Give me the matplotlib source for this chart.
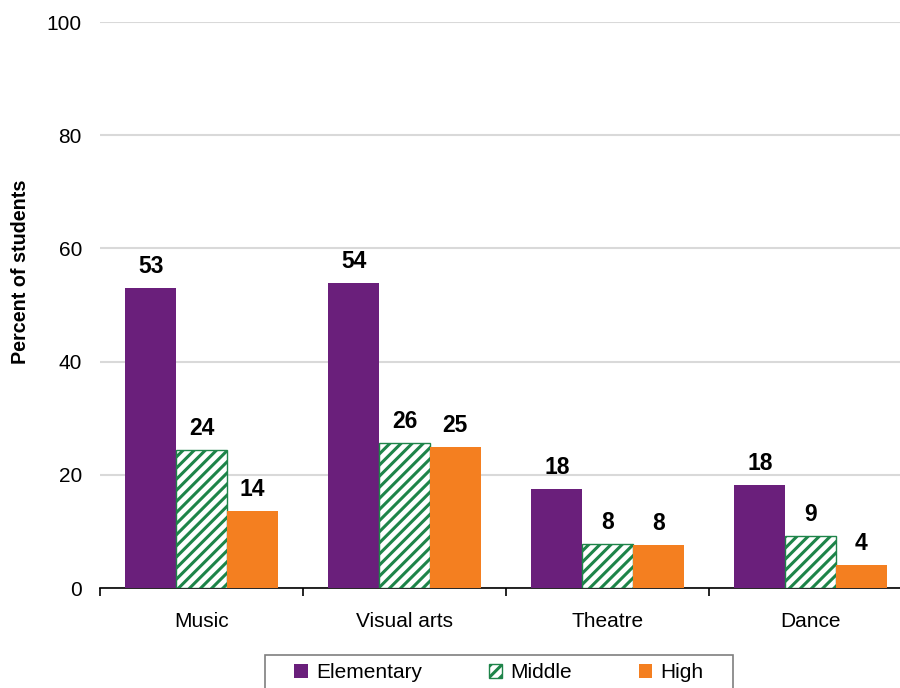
import numpy as np
import matplotlib
import matplotlib.pyplot as plt
from matplotlib.patches import Rectangle

matplotlib.use("Agg")

categories = ["Music", "Visual arts", "Theatre", "Dance"]
levels = ["Elementary", "Middle", "High"]
elementary = [53.0, 53.9, 17.5, 18.2]
middle = [24.4, 25.6, 7.8, 9.2]
high = [13.6, 24.9, 7.6, 4.1]

purple = "#6a1f7b"
green = "#1e8449"
orange = "#f47f20"
fs = 15

plt.rcParams["font.family"] = ["Liberation Sans", "DejaVu Sans"]
plt.rcParams["hatch.linewidth"] = 2.2

fig = plt.figure(figsize=(9, 6.88), dpi=100)
ax = fig.add_axes([100 / 900, 1 - 588 / 688, 812 / 900, (588 - 22) / 688])

x = np.arange(len(categories)) + 0.5
w = 0.25
b1 = ax.bar(x - w, elementary, w, color=purple, label="Elementary", zorder=3)
b2 = ax.bar(x, middle, w, facecolor="white", edgecolor=green, hatch="///",
            linewidth=1, label="Middle", zorder=3)
b3 = ax.bar(x + w, high, w, color=orange, label="High", zorder=3)

for bars, vals in [(b1, elementary), (b2, middle), (b3, high)]:
    for rect, v in zip(bars, vals):
        ax.annotate(f"{round(v)}", (rect.get_x() + rect.get_width() / 2, v),
                    xytext=(0, 7), textcoords="offset points",
                    ha="center", va="bottom", fontsize=16.5, fontweight="bold")

ax.set_xlim(0, len(categories))
ax.set_ylim(0, 100)
ax.set_yticks(np.arange(0, 101, 20))
ax.yaxis.grid(True, color="#d9d9d9", linewidth=1.5, zorder=0)
ax.tick_params(axis="y", length=0, labelsize=fs, pad=13)

# category names sit between boundary ticks
ax.set_xticks(np.arange(len(categories) + 1))
ax.set_xticklabels([])
ax.set_xticks(x, minor=True)
ax.set_xticklabels(categories, minor=True)
ax.tick_params(axis="x", which="major", length=6, width=1.2, direction="out")
ax.tick_params(axis="x", which="minor", length=0, labelsize=fs, pad=17)

for s in ["top", "right", "left"]:
    ax.spines[s].set_visible(False)
ax.spines["bottom"].set_linewidth(1.2)

ax.set_ylabel("Percent of students", fontsize=14.2, fontweight="bold")
ax.yaxis.set_label_coords(-0.086, 0.558)

leg = fig.legend(handles=[b1, b2, b3], labels=levels, loc="upper center",
                 bbox_to_anchor=(499 / 900, 1 - 663 / 688), ncol=3, frameon=False,
                 fontsize=fs, borderaxespad=0, borderpad=0,
                 handlelength=0.65, handleheight=0.65, handletextpad=0.4,
                 columnspacing=3.2)

# square grey frame around the legend, running off the bottom edge
fig.canvas.draw()
bb = leg.get_window_extent().transformed(fig.transFigure.inverted())
padx, ptop, pbot = 29 / 900, 8 / 688, 30 / 688
fig.patches.append(Rectangle((bb.x0 - padx, bb.y0 - pbot), bb.width + 2 * padx,
                             bb.height + ptop + pbot, transform=fig.transFigure,
                             facecolor="none", edgecolor="#7f7f7f", linewidth=1.2))

fig.savefig("out.png", dpi=100)
